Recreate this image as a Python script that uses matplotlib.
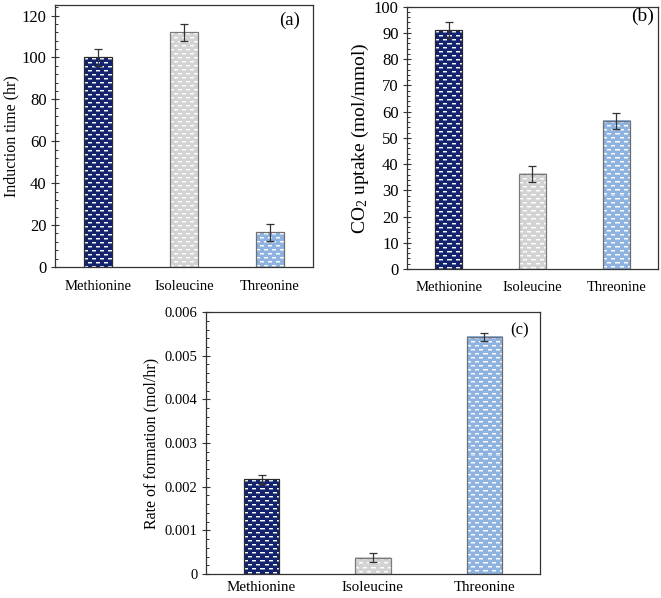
import matplotlib
matplotlib.use("Agg")
import matplotlib.pyplot as plt
import numpy as np
from matplotlib.ticker import MultipleLocator, FuncFormatter

plt.rcParams["font.family"] = ["Liberation Serif", "DejaVu Serif"]
plt.rcParams["mathtext.fontset"] = "custom"
plt.rcParams["mathtext.rm"] = "Liberation Serif"
plt.rcParams["mathtext.it"] = "Liberation Serif:italic"

# data
amino_acids = ["Methionine", "Isoleucine", "Threonine"]
induction_time = [100, 112, 16.5]
induction_err = [4, 4, 4]
co2_uptake = [91, 36.3, 56.5]
co2_err = [3, 3, 3]
formation_rate = [0.00217, 0.00037, 0.00543]
formation_err = [0.0001, 0.0001, 0.0001]

base_colors = ["#14236e", "#d3d3d3", "#8fb3e0"]
edge_colors = ["#2b2b2b", "#7a7a7a", "#6f6f6f"]
FRAME = "#333333"


def hex_rgb(c):
    c = c.lstrip("#")
    return np.array([int(c[i:i + 2], 16) / 255 for i in (0, 2, 4)])


def add_texture(ax, bar, base):
    # brick pattern of small white dashes, like the Excel fill
    bb = bar.get_window_extent()
    w = max(int(round(bb.width)), 1)
    h = max(int(round(bb.height)), 1)
    yy, xx = np.mgrid[0:h, 0:w]
    shift = ((yy // 4) % 2) * 4
    on = ((xx + shift) % 8) < 4
    img = np.empty((h, w, 3))
    img[:] = hex_rgb(base)
    white = np.array([1.0, 1.0, 1.0])
    img[(yy % 4 == 1) & on] = white
    img[(yy % 4 == 2) & on] = 0.45 * white + 0.55 * hex_rgb(base)
    x0 = bar.get_x()
    y0 = bar.get_y()
    ax.imshow(img, extent=(x0, x0 + bar.get_width(), y0, y0 + bar.get_height()),
              origin="upper", interpolation="nearest", aspect="auto", zorder=1.5)


def panel(ax, values, errs, ymax, major, minor, ylabel, tag, tag_xy, width,
          tick_fs, cat_fs, label_fs, tag_fs, labelpad, xpad=9, fmt=None):
    x = np.arange(len(amino_acids))
    ax.set_xlim(-0.5, len(amino_acids) - 0.5)
    ax.set_ylim(0, ymax)
    bars = ax.bar(x, values, width=width, facecolor="none",
                  edgecolor=edge_colors, linewidth=0.9, zorder=2)
    for b, c in zip(bars, base_colors):
        add_texture(ax, b, c)
    ax.errorbar(x, values, yerr=errs, fmt="none", ecolor="#333333",
                elinewidth=0.9, capsize=3.2, capthick=0.9, zorder=3)
    ax.set_xlim(-0.5, len(amino_acids) - 0.5)
    ax.set_ylim(0, ymax)

    ax.set_xticks(x)
    ax.set_xticklabels(amino_acids, fontsize=cat_fs)
    ax.tick_params(axis="x", length=0, pad=xpad)
    ax.yaxis.set_major_locator(MultipleLocator(major))
    ax.yaxis.set_minor_locator(MultipleLocator(minor))
    ax.tick_params(axis="y", which="major", direction="inout", length=6,
                   width=0.8, color=FRAME, labelsize=tick_fs, pad=3)
    ax.tick_params(axis="y", which="minor", direction="in", length=2.5,
                   width=0.7, color=FRAME)
    if fmt is not None:
        ax.yaxis.set_major_formatter(fmt)
    for s in ax.spines.values():
        s.set_color(FRAME)
        s.set_linewidth(0.9)
    ax.set_ylabel(ylabel, fontsize=label_fs, labelpad=labelpad)
    ax.text(tag_xy[0], tag_xy[1], tag, transform=ax.transAxes,
            fontsize=tag_fs, ha="center", va="center")


fig = plt.figure(figsize=(6.61, 5.98), dpi=100)

ax_a = fig.add_axes([0.0832, 0.5535, 0.390, 0.438])
ax_b = fig.add_axes([0.6157, 0.5502, 0.3797, 0.4386])
ax_c = fig.add_axes([0.3116, 0.0401, 0.5053, 0.4381])

panel(ax_a, induction_time, induction_err, 125, 20, 4,
      "Induction time (hr)", "(a)", (0.91, 0.94), 0.325,
      tick_fs=12, cat_fs=10.5, label_fs=11.5, tag_fs=13.5, labelpad=2)
ax_a.set_yticks(np.arange(0, 121, 20))

panel(ax_b, co2_uptake, co2_err, 100, 10, 2,
      "CO$_2$ uptake (mol/mmol)", "(b)", (0.94, 0.965), 0.325,
      tick_fs=12, cat_fs=10.5, label_fs=14, tag_fs=14, labelpad=2)

rate_fmt = FuncFormatter(lambda v, p: "0" if abs(v) < 1e-12 else f"{v:.3f}")
panel(ax_c, formation_rate, formation_err, 0.006, 0.001, 0.0002,
      "Rate of formation (mol/hr)", "(c)", (0.94, 0.93), 0.315,
      tick_fs=10.5, cat_fs=10.8, label_fs=11.5, tag_fs=12, labelpad=4,
      xpad=5, fmt=rate_fmt)

fig.savefig("out.png", dpi=100)
